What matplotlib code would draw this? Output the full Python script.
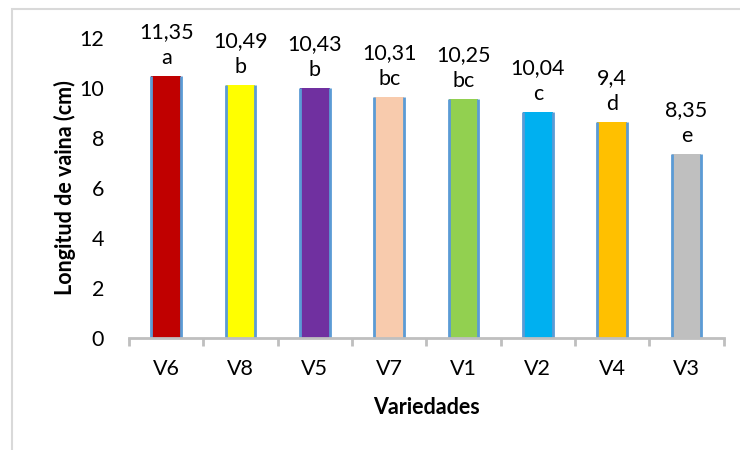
import matplotlib
matplotlib.use("Agg")
import matplotlib.pyplot as plt
from matplotlib.patches import Rectangle

# data
variedades = ["V6", "V8", "V5", "V7", "V1", "V2", "V4", "V3"]
longitud = [10.48, 10.12, 9.99, 9.63, 9.56, 9.04, 8.64, 7.36]
etiquetas = ["11,35", "10,49", "10,43", "10,31", "10,25", "10,04", "9,4", "8,35"]
letras = ["a", "b", "b", "bc", "bc", "c", "d", "e"]
colores = ["#C00000", "#FFFF00", "#7030A0", "#F8CBAD",
           "#92D050", "#00B0F0", "#FFC000", "#BFBFBF"]

plt.rcParams['font.family'] = ['Lato', 'DejaVu Sans']
fs = 15.5

fig = plt.figure(figsize=(7.4, 4.5), dpi=100)
ax = fig.add_axes([0.1743, 0.249, 0.8037, 0.6667])

# light grey chart border (only top and left visible)
fig.patches.append(Rectangle((12 / 740, -0.1), 1.2, 1 - 9 / 450 + 0.1,
                             transform=fig.transFigure, fill=False,
                             edgecolor="#D9D9D9", linewidth=1.5))

x = range(len(variedades))
bars = ax.bar(x, longitud, width=0.4, color=colores, linewidth=0)

# blue outline on the bar sides only
for b in bars:
    x0, x1 = b.get_x(), b.get_x() + b.get_width()
    ax.vlines([x0, x1], 0, b.get_height(), color="#5B9BD5", linewidth=2)

for b, et, le in zip(bars, etiquetas, letras):
    ax.annotate(et + "\n" + le, (b.get_x() + b.get_width() / 2, b.get_height()),
                xytext=(0, 6), textcoords="offset points",
                ha="center", va="bottom", fontsize=fs, linespacing=1.35)

ax.set_xlim(-0.5, len(variedades) - 0.5)
ax.set_ylim(0, 12)
ax.set_yticks(range(0, 13, 2))
ax.set_xticks(list(x))
ax.set_xticklabels(variedades)
ax.set_xticks([i - 0.5 for i in range(len(variedades) + 1)], minor=True)

for s in ["top", "right", "left"]:
    ax.spines[s].set_visible(False)
ax.spines["bottom"].set_color("#BFBFBF")
ax.spines["bottom"].set_linewidth(2)
ax.spines["bottom"].set_zorder(3)

ax.tick_params(axis="y", length=0, pad=18, labelsize=fs)
ax.tick_params(axis="x", which="major", length=0, pad=15, labelsize=fs)
ax.tick_params(axis="x", which="minor", length=6, width=2, color="#BFBFBF")

ax.set_ylabel("Longitud de vaina (cm)", fontsize=fs, fontweight="bold", labelpad=2)
ax.set_xlabel("Variedades", fontsize=fs, fontweight="bold", labelpad=13)

fig.savefig("out.png", dpi=100)
